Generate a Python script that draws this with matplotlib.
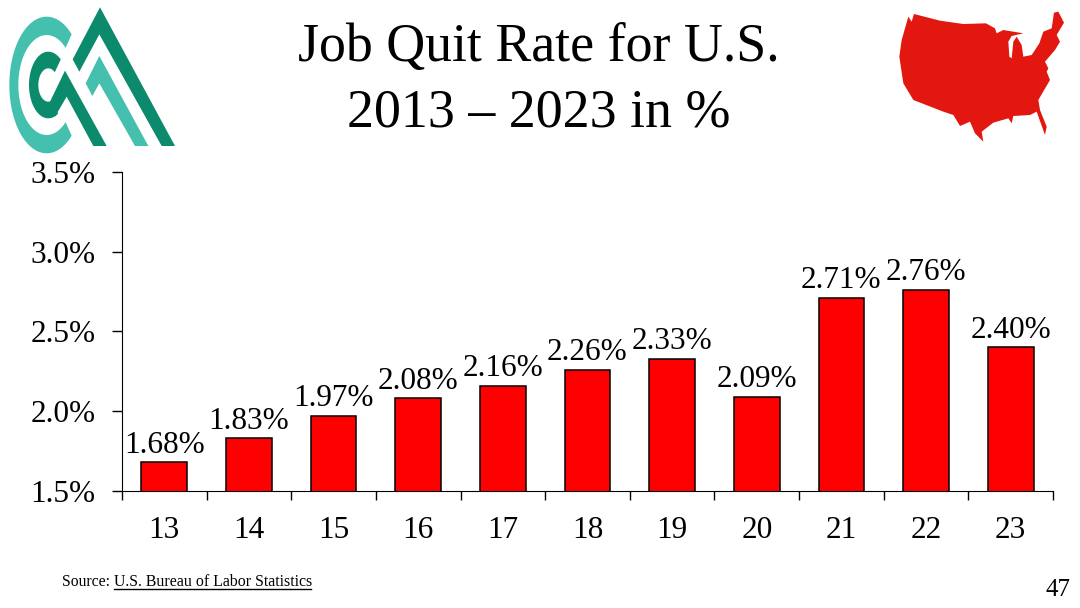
import numpy as np
import matplotlib
matplotlib.use("Agg")
import matplotlib.pyplot as plt
from matplotlib.patches import Polygon
from matplotlib.ticker import FixedLocator

plt.rcParams['font.family'] = ['Liberation Serif', 'DejaVu Serif']

# Values
years = ['13', '14', '15', '16', '17', '18', '19', '20', '21', '22', '23']
quit_rate = [1.68, 1.83, 1.97, 2.08, 2.16, 2.26, 2.33, 2.09, 2.71, 2.76, 2.40]
y_ticks = [1.5, 2.0, 2.5, 3.0, 3.5]

# Decoration outlines, in pixels of the crop they were traced from (3x zoom)
logo_dark_peak = [(300, 22), (525, 438), (485, 438), (298, 103), (238, 215), (218, 178)]
logo_light_peak = [(298, 168), (445, 438), (405, 438), (298, 250), (277, 288), (257, 250)]
logo_dark_leg = [(165, 350), (200, 290), (280, 438), (320, 438), (195, 212), (150, 305)]
us_map = [(65, 120), (58, 170), (70, 250), (100, 300), (190, 335), (220, 345), (240, 378),
          (270, 365), (285, 400), (310, 425), (305, 395), (340, 368), (385, 355), (395, 370),
          (400, 348), (450, 345), (470, 335), (495, 405), (500, 380), (480, 330), (475, 300),
          (510, 240), (500, 215), (505, 205), (495, 185), (525, 150), (540, 125), (530, 105),
          (552, 68), (535, 35), (522, 38), (515, 85), (490, 95), (478, 130), (455, 165),
          (430, 170), (425, 135), (410, 110), (400, 125), (395, 175), (388, 170), (385, 125),
          (395, 108), (430, 100), (400, 95), (370, 90), (350, 100), (345, 85), (318, 70),
          (250, 72), (180, 62), (102, 42), (95, 65), (85, 50)]

W, H = 1080, 608
fig = plt.figure(figsize=(W / 100, H / 100), dpi=100, facecolor='white')

# Overlay in pixel coordinates for logo and map
bg = fig.add_axes([0, 0, 1, 1])
bg.set_xlim(0, W)
bg.set_ylim(H, 0)
bg.axis('off')


def traced(points, x0=0):
    return [(x0 + x / 3, y / 3) for x, y in points]


# open ring between two ellipses, used for the C shapes of the logo
def c_ring(cx, cy, outer, inner, start, stop):
    t = np.radians(np.linspace(start, stop, 60))
    out = np.c_[cx + outer[0] * np.cos(t), cy - outer[1] * np.sin(t)]
    inn = np.c_[cx + inner[0] * np.cos(t), cy - inner[1] * np.sin(t)]
    return traced(np.vstack([out, inn[::-1]]))


teal = '#45bfae'
green = '#0b8a6c'
bg.add_patch(Polygon(c_ring(140, 255, (112, 205), (85, 150), 48, 312), color=teal, lw=0))
bg.add_patch(Polygon(c_ring(145, 255, (58, 100), (30, 50), 50, 300), color=green, lw=0))
bg.add_patch(Polygon(traced(logo_dark_leg), color=green, lw=0))
bg.add_patch(Polygon(traced(logo_dark_peak), color=green, lw=0))
bg.add_patch(Polygon(traced(logo_light_peak), color=teal, lw=0))
bg.add_patch(Polygon(traced(us_map, 880), color='#e2170f', lw=0))

# Chart area
ax = fig.add_axes([122 / W, 1 - 491 / H, 931 / W, 319 / H])
ax.patch.set_alpha(0)
x = np.arange(len(years))
ax.bar(x, quit_rate, width=0.54, color='#ff0000', edgecolor='black', linewidth=1.1)
ax.set_xlim(-0.5, 10.5)
ax.set_ylim(1.5, 3.5)

for xi, v in zip(x, quit_rate):
    ax.annotate(f'{v:.2f}%', (xi, v), xytext=(0, 2), textcoords='offset points',
                ha='center', va='bottom', fontsize=22.5, color='black')

ax.set_xticks(x)
ax.set_xticklabels(years)
ax.xaxis.set_minor_locator(FixedLocator(np.arange(-0.5, 11, 1)))
ax.tick_params(axis='x', which='major', length=0, pad=18, labelsize=22.5)
ax.tick_params(axis='x', which='minor', length=6.5, width=1, direction='out')
ax.set_yticks(y_ticks)
ax.set_yticklabels([f'{t:.1f}%' for t in y_ticks])
ax.tick_params(axis='y', length=7, width=1, pad=12, labelsize=22.5)
ax.spines['top'].set_visible(False)
ax.spines['right'].set_visible(False)

fig.text(539 / W, 1 - 48 / H, 'Job Quit Rate for U.S.', ha='center', va='center', fontsize=38.8)
fig.text(539 / W, 1 - 113 / H, '2013 – 2023 in %', ha='center', va='center', fontsize=38.8)

fig.text(62 / W, 1 - 582 / H, 'Source: ', ha='left', va='center', fontsize=11.3)
fig.text(114 / W, 1 - 582 / H, 'U.S. Bureau of Labor Statistics', ha='left', va='center',
         fontsize=11.4)
bg.plot([114, 311], [589, 589], color='black', lw=1)
fig.text(1058 / W, 1 - 590 / H, '47', ha='center', va='center', fontsize=18)

fig.savefig('out.png', dpi=100)
